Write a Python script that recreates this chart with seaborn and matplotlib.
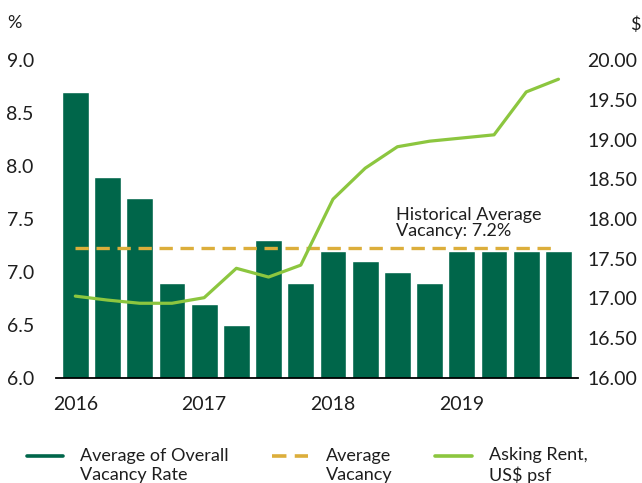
import numpy as np
import matplotlib
matplotlib.use("Agg")
import matplotlib.pyplot as plt
from matplotlib.lines import Line2D
import seaborn as sns

# data
quarters = [f"{y} Q{q}" for y in (2016, 2017, 2018, 2019) for q in (1, 2, 3, 4)]
vacancy = [8.7, 7.9, 7.7, 6.9, 6.7, 6.5, 7.3, 6.9, 7.2, 7.1, 7.0, 6.9, 7.2, 7.2, 7.2, 7.2]
asking_rent = [17.03, 16.98, 16.94, 16.94, 17.01, 17.38, 17.27, 17.42,
               18.25, 18.64, 18.91, 18.98, 19.02, 19.06, 19.60, 19.76]
hist_avg = 7.23
year_labels = ["2016", "2017", "2018", "2019"]
left_ticks = [6.0, 6.5, 7.0, 7.5, 8.0, 8.5, 9.0]
right_ticks = [16.0, 16.5, 17.0, 17.5, 18.0, 18.5, 19.0, 19.5, 20.0]

DARK = "#00664a"
LIGHT = "#8cc63f"
GOLD = "#dcae3b"
TXT = "#1e1e1e"

sns.set_style("white")
plt.rcParams['font.family'] = ['Lato', 'DejaVu Sans']
plt.rcParams['text.color'] = TXT

fig = plt.figure(figsize=(6.42, 4.83), dpi=100)
ax = fig.add_axes([0.0872, 0.2175, 0.8128, 0.658])
idx = np.arange(len(quarters))

sns.barplot(x=quarters, y=vacancy, color=DARK, width=0.83, saturation=1, ax=ax)
sns.lineplot(x=idx, y=[hist_avg] * len(idx), color=GOLD, lw=2.4, ax=ax)
ax.lines[-1].set_dashes((4, 2.3))

ax2 = ax.twinx()
sns.lineplot(x=idx, y=asking_rent, color=LIGHT, lw=2.3, ax=ax2)

ax.set_xlim(-0.6, 15.6)
ax.set_ylim(6, 9)
ax2.set_ylim(16, 20)
ax.set_yticks(left_ticks)
ax.set_yticklabels([f"{v:.1f}" for v in left_ticks])
ax2.set_yticks(right_ticks)
ax2.set_yticklabels([f"{v:.2f}" for v in right_ticks])
ax.set_xticks(idx[::4])
ax.set_xticklabels(year_labels)
ax.set_xlabel("")
ax.set_ylabel("")
ax2.set_ylabel("")

for a in (ax, ax2):
    for s in ("top", "left", "right"):
        a.spines[s].set_visible(False)
    a.spines["bottom"].set_color("black")
    a.spines["bottom"].set_linewidth(1.3)
    a.tick_params(length=0, labelsize=14, labelcolor=TXT)
ax2.spines["bottom"].set_visible(False)
ax.tick_params(axis="y", pad=16)
ax.tick_params(axis="x", pad=13)
ax2.tick_params(axis="y", pad=7)
ax.grid(False)
ax2.grid(False)

ax.text(9.97, 7.31, "Historical Average\nVacancy: 7.2%", fontsize=13,
        ha="left", va="bottom", linespacing=1.05)

fig.text(0.011, 0.953, "%", fontsize=13, va="center", ha="left")
fig.text(0.982, 0.948, "$", fontsize=13, va="center", ha="left")

# legend
handles = [Line2D([], [], color=DARK, lw=2.6),
           Line2D([], [], color=GOLD, lw=2.6, dashes=(4, 2.3)),
           Line2D([], [], color=LIGHT, lw=2.6)]
labels = ["Average of Overall\nVacancy Rate", "Average\nVacancy", "Asking Rent,\nUS$ psf"]
leg = fig.legend(handles, labels, loc="upper left", bbox_to_anchor=(0.042, 0.074),
                 ncol=3, frameon=False, fontsize=13, handlelength=2.0,
                 handletextpad=0.95, columnspacing=2.4, borderaxespad=0,
                 borderpad=0)
# put the handle next to the first line of each label
for ln in leg.get_lines():
    ln.set_ydata(np.asarray(ln.get_ydata()) + 7)

fig.savefig("out.png", dpi=100)
